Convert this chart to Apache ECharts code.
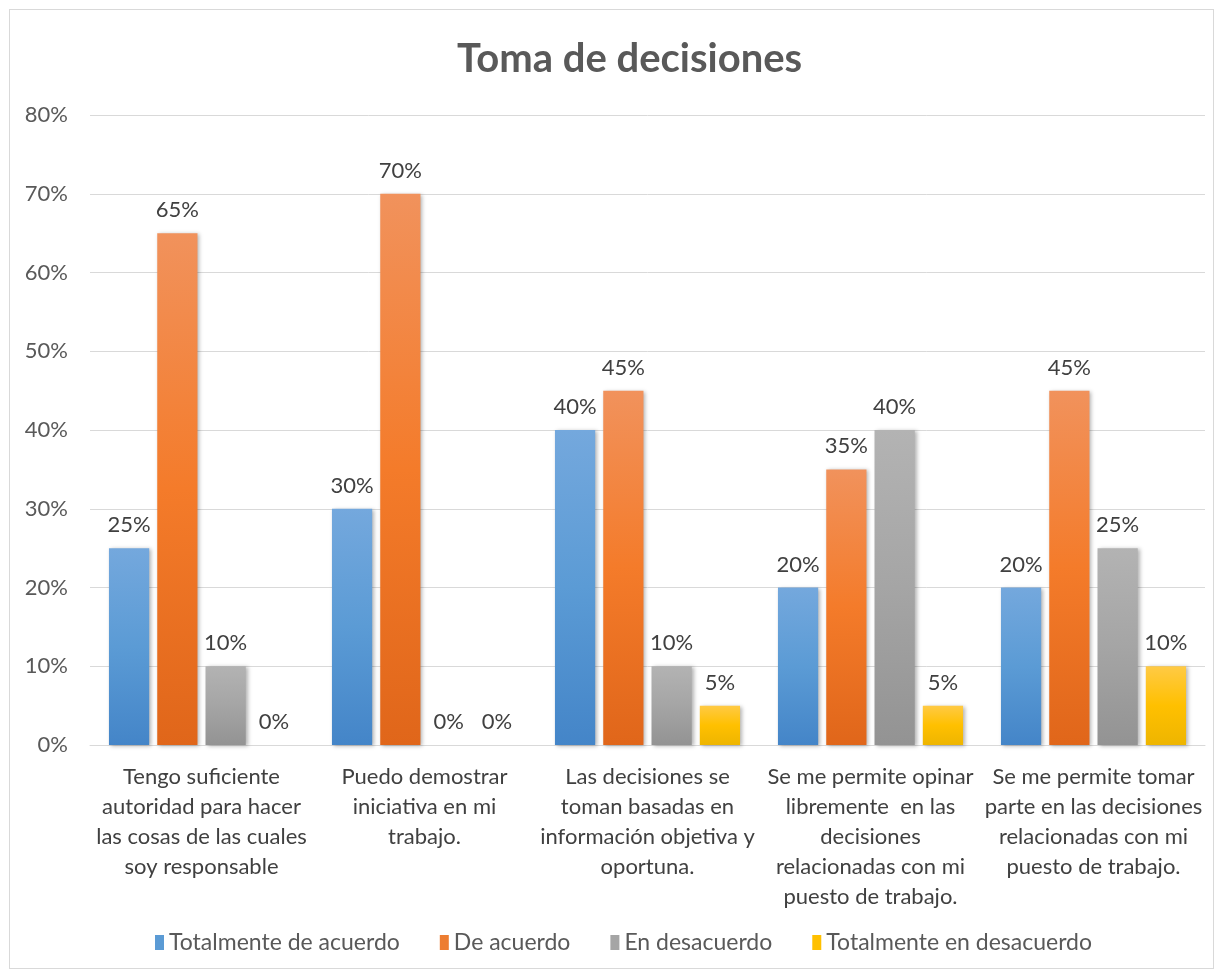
<!DOCTYPE html>
<html>
<head>
<meta charset="utf-8">
<script src="https://cdn.jsdelivr.net/npm/echarts@6/dist/echarts.min.js"></script>
<style>
  html, body { margin: 0; padding: 0; background: #fff; }
  #chart { width: 1223px; height: 979px; }
  #frame { position: absolute; left: 9px; top: 9px; width: 1205px; height: 960px; border: 1px solid #d9d9d9; box-sizing: border-box; pointer-events: none; }
</style>
</head>
<body>
<div id="chart"></div>
<div id="frame"></div>
<script>
const categories = [
  'Tengo suficiente\nautoridad para hacer\nlas cosas de las cuales\nsoy responsable',
  'Puedo demostrar\niniciativa en mi\ntrabajo.',
  'Las decisiones se\ntoman basadas en\ninformación objetiva y\noportuna.',
  'Se me permite opinar\nlibremente  en las\ndecisiones\nrelacionadas con mi\npuesto de trabajo.',
  'Se me permite tomar\nparte en las decisiones\nrelacionadas con mi\npuesto de trabajo.'
];
const seriesNames = ['Totalmente de acuerdo', 'De acuerdo', 'En desacuerdo', 'Totalmente en desacuerdo'];
const totalmenteAcuerdo = [25, 30, 40, 20, 20];
const deAcuerdo = [65, 70, 45, 35, 45];
const enDesacuerdo = [10, 0, 10, 40, 25];
const totalmenteDesacuerdo = [0, 0, 5, 5, 10];
const yTicks = [0, 10, 20, 30, 40, 50, 60, 70, 80];

// gradiente de cada serie (arriba -> abajo)
const gradients = [
  ['#74a8dd', '#5b9bd5', '#4485c8'],
  ['#f1925c', '#f47b2a', '#e0661a'],
  ['#b3b3b3', '#a5a5a5', '#939393'],
  ['#ffca45', '#ffc000', '#eeb500']
];
const legendColors = ['#5b9bd5', '#ed7d31', '#a5a5a5', '#ffc000'];
const values = [totalmenteAcuerdo, deAcuerdo, enDesacuerdo, totalmenteDesacuerdo];

const font = 'Lato, "Open Sans", sans-serif';
const chart = echarts.init(document.getElementById('chart'));

const series = seriesNames.map((name, i) => ({
  name,
  type: 'bar',
  data: values[i],
  barGap: '20%',
  barCategoryGap: '17%',
  itemStyle: {
    color: new echarts.graphic.LinearGradient(0, 0, 0, 1, [
      { offset: 0, color: gradients[i][0] },
      { offset: 0.5, color: gradients[i][1] },
      { offset: 1, color: gradients[i][2] }
    ]),
    shadowBlur: 4,
    shadowOffsetX: 2,
    shadowOffsetY: 1,
    shadowColor: 'rgba(0,0,0,0.3)'
  },
  label: {
    show: true,
    position: 'top',
    distance: 12,
    formatter: '{c}%',
    color: '#404040',
    fontSize: 22,
    fontFamily: font
  }
}));

chart.setOption({
  backgroundColor: '#fff',
  color: legendColors,
  title: {
    text: 'Toma de decisiones',
    left: 452,
    top: 34,
    textStyle: { fontSize: 40, fontWeight: 'bold', color: '#595959', fontFamily: font }
  },
  legend: {
    bottom: 20,
    left: 150,
    itemWidth: 9,
    itemHeight: 15,
    itemGap: 40,
    icon: 'rect',
    textStyle: { fontSize: 23, color: '#595959', fontFamily: font },
    data: seriesNames.map((n, i) => ({ name: n, itemStyle: { color: legendColors[i] } }))
  },
  grid: { left: 90, right: 18, top: 115, bottom: 234 },
  xAxis: {
    type: 'category',
    data: categories,
    axisLine: { lineStyle: { color: '#d9d9d9', width: 1 } },
    axisTick: { show: false },
    axisLabel: {
      interval: 0,
      margin: 17,
      lineHeight: 30,
      fontSize: 22,
      color: '#404040',
      fontFamily: font
    }
  },
  yAxis: {
    type: 'value',
    min: yTicks[0],
    max: yTicks[yTicks.length - 1],
    interval: 10,
    axisLine: { show: false },
    axisTick: { show: false },
    splitLine: { lineStyle: { color: '#d9d9d9', width: 1 } },
    axisLabel: {
      formatter: '{value}%',
      margin: 22,
      fontSize: 22,
      color: '#595959',
      fontFamily: font
    }
  },
  series
});
</script>
</body>
</html>
